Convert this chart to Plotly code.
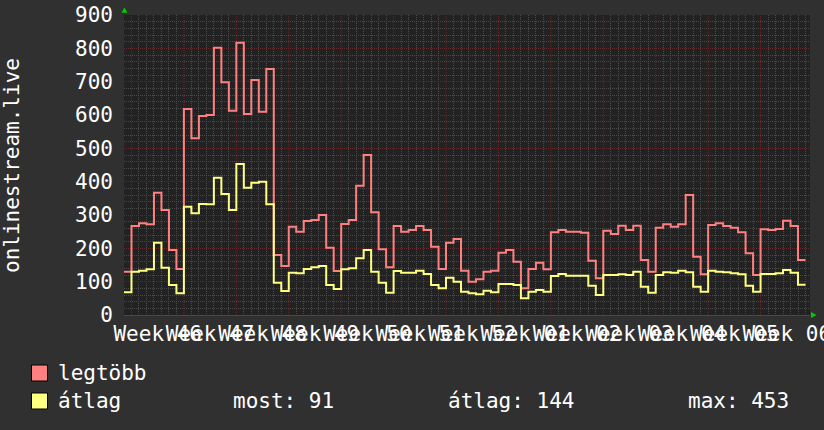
import plotly.graph_objects as go

# ---------------- data ----------------
legtobb = [130, 267, 275, 272, 367, 315, 195, 138, 618, 530, 597, 600, 802, 698, 613, 817,
           603, 705, 610, 738, 180, 147, 265, 250, 282, 285, 300, 202, 132, 273, 285, 388,
           480, 308, 197, 143, 267, 250, 255, 267, 255, 205, 138, 217, 228, 133, 100, 107,
           130, 133, 187, 195, 160, 80, 138, 157, 137, 248, 255, 250, 250, 247, 163, 110,
           253, 243, 268, 255, 268, 165, 130, 262, 272, 265, 272, 360, 175, 122, 270, 275,
           267, 262, 248, 185, 120, 257, 255, 258, 283, 267, 165]
atlag = [68, 130, 133, 137, 217, 142, 90, 65, 325, 305, 333, 332, 412, 363, 315, 453,
         382, 397, 400, 332, 97, 72, 127, 125, 138, 143, 147, 90, 78, 137, 140, 170,
         195, 130, 97, 67, 132, 127, 127, 133, 123, 90, 80, 112, 100, 70, 65, 62,
         73, 68, 93, 93, 90, 50, 70, 75, 70, 117, 123, 118, 118, 118, 88, 60,
         120, 120, 122, 120, 130, 85, 67, 120, 128, 127, 133, 128, 85, 70, 133, 130,
         128, 125, 122, 88, 70, 123, 123, 125, 135, 127, 91]
week_labels = ["Week 46", "Week 47", "Week 48", "Week 49", "Week 50", "Week 51", "Week 52",
               "Week 01", "Week 02", "Week 03", "Week 04", "Week 05", "Week 06"]
week_start_day = [1, 8, 15, 22, 29, 36, 43, 50, 57, 64, 71, 78, 85]
y_ticks = [0, 100, 200, 300, 400, 500, 600, 700, 800, 900]
stats = {"most": 91, "átlag": 144, "max": 453}
y_title = "onlinestream.live"

# ---------------- geometry ----------------
W, H = 824, 430
L, R, T, B = 124, 14, 15, 115
PW, PH = W - L - R, H - T - B
X_END = 91.6

def px(x):
    return (x - L) / PW

def py(y):
    return (H - B - y) / PH

FONT = "DejaVu Sans Mono"
BG = "#303030"
CANVAS = "#222222"
RED = "#ff8080"
YEL = "#ffff80"
MAJOR = "#5c2a2a"
MINOR = "#4a4a4a"
DOT = "1px,1px"

n = len(legtobb)
xs = list(range(n)) + [n]
minor_days = [d for d in range(int(X_END) + 1) if d not in week_start_day]
label_pos = [d + 3.5 for d in week_start_day]

fig = go.Figure()
fig.add_trace(go.Scatter(x=xs, y=legtobb + [legtobb[-1]], mode="lines", line_shape="hv",
                         line=dict(color=RED, width=2), name="legtöbb", showlegend=False))
fig.add_trace(go.Scatter(x=xs, y=atlag + [atlag[-1]], mode="lines", line_shape="hv",
                         line=dict(color=YEL, width=2), name="átlag", showlegend=False))

fig.update_layout(
    width=W, height=H,
    margin=dict(l=L, r=R, t=T, b=B, pad=0, autoexpand=False),
    paper_bgcolor=BG, plot_bgcolor=CANVAS,
    font=dict(family=FONT, size=21, color="#ffffff"),
    showlegend=False,
    xaxis=dict(range=[0, X_END], tickvals=label_pos, ticktext=week_labels, tickangle=0,
               automargin=False, ticklabeloverflow="allow", ticks="", ticklabelstandoff=0,
               tickfont=dict(family=FONT, size=21, color="#ffffff"),
               showgrid=False, zeroline=False, showline=True, linecolor="#4a4a4a",
               minor=dict(tickmode="array", tickvals=minor_days, showgrid=True,
                          gridcolor=MINOR, griddash=DOT, gridwidth=1)),
    yaxis=dict(range=[0, 900], tickvals=y_ticks, showgrid=True, gridcolor=MAJOR,
               griddash=DOT, gridwidth=1, zeroline=False, ticks="",
               automargin=False,
               ticklabelstandoff=10, showline=False,
               tickfont=dict(family=FONT, size=21, color="#ffffff"),
               minor=dict(dtick=20, tick0=0, showgrid=True, gridcolor=MINOR,
                          griddash=DOT, gridwidth=1)),
)

# major (week) grid lines
for d in week_start_day:
    fig.add_shape(type="line", xref="x", yref="paper", x0=d, x1=d, y0=0, y1=1,
                  layer="between", line=dict(color=MAJOR, width=1, dash=DOT))

# y-axis title
fig.add_annotation(text=y_title, xref="paper", yref="paper", x=px(12), y=py(166),
                   xanchor="center", yanchor="middle", textangle=-90, showarrow=False,
                   font=dict(family=FONT, size=21, color="#ffffff"))

# axis arrows
fig.add_shape(type="path", xref="paper", yref="paper",
              path=f"M {px(121.5)},{py(12.7)} L {px(127.5)},{py(12.7)} L {px(124.5)},{py(7.5)} Z",
              fillcolor="#00cc00", line=dict(width=0))
fig.add_shape(type="path", xref="paper", yref="paper",
              path=f"M {px(811)},{py(312)} L {px(811)},{py(318)} L {px(816.5)},{py(315)} Z",
              fillcolor="#00cc00", line=dict(width=0))

# legend
for (name, col, yc) in [("legtöbb", RED, 373), ("átlag", YEL, 401)]:
    fig.add_shape(type="rect", xref="paper", yref="paper",
                  x0=px(31.5), x1=px(47.5), y0=py(yc - 8), y1=py(yc + 8),
                  fillcolor=col, line=dict(color="#000000", width=1))
    fig.add_annotation(text=name, xref="paper", yref="paper", x=px(56), y=py(yc),
                       xanchor="left", yanchor="middle", showarrow=False,
                       font=dict(family=FONT, size=21, color="#ffffff"))
for (txt, xl) in [(f"most: {stats['most']}", 231), (f"átlag: {stats['átlag']}", 446),
                  (f"max: {stats['max']}", 686)]:
    fig.add_annotation(text=txt, xref="paper", yref="paper", x=px(xl), y=py(401),
                       xanchor="left", yanchor="middle", showarrow=False,
                       font=dict(family=FONT, size=21, color="#ffffff"))

fig.write_html("out.html", config={"displayModeBar": False},
               post_script="document.body.style.margin='0';document.body.style.overflow='hidden';")
